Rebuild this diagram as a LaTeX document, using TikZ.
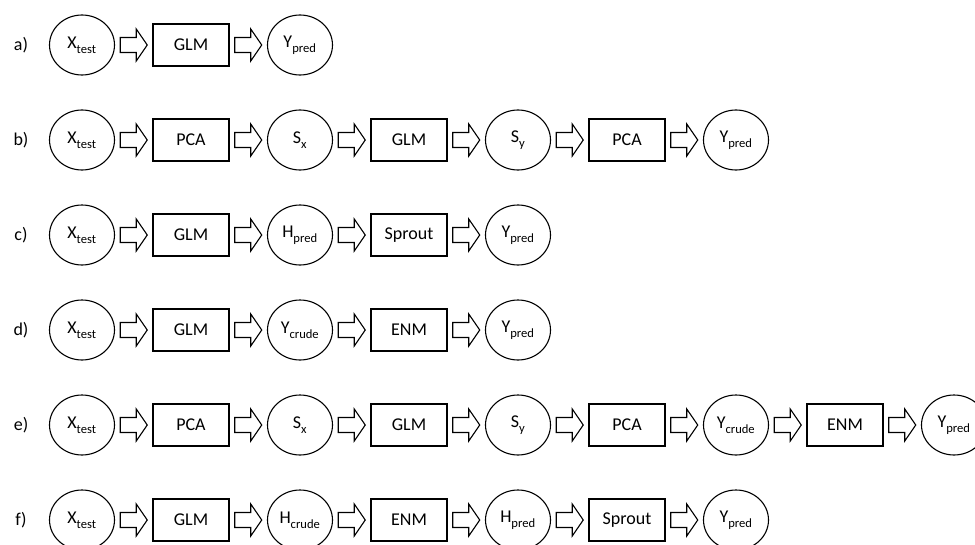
\documentclass[tikz,border=0pt]{standalone}
\usepackage{fontspec}
\setmainfont{Carlito}
\usetikzlibrary{calc,shapes.geometric}
\tikzset{
  circ/.style={ellipse, draw, line width=1.1pt, minimum width=65pt, minimum height=60pt, inner sep=0pt, font=\fontsize{18}{21}\selectfont},
  boxn/.style={rectangle, draw, line width=1.1pt, minimum width=76pt, minimum height=42pt, inner sep=0pt, font=\fontsize{18}{21}\selectfont},
  barrow/.style={draw, line width=1.1pt, line join=miter},
  lbl/.style={font=\fontsize{18}{21}\selectfont},
}
\newcommand{\sbs}[1]{\textsubscript{\raisebox{-0.35ex}{#1}}}
\newcommand{\arr}[2]{\begin{scope}[shift={($(#1.east)!0.5!(#2.west)$)}]
  \draw[barrow] (-13.5,-7.5) -- (2.5,-7.5) -- (2.5,-16) -- (13.5,0) -- (2.5,16) -- (2.5,7.5) -- (-13.5,7.5) -- cycle;
\end{scope}}
\begin{document}
\begin{tikzpicture}[x=1pt,y=-1pt]
\useasboundingbox (0,0) rectangle (975,544);
% row a
\node[lbl] (la) at (21,45) {a)};
\node[circ] (a1) at (82,45) {X\sbs{test}};
\node[boxn] (a2) at (191,45) {GLM};
\node[circ] (a3) at (300,45) {Y\sbs{pred}};
\arr{a1}{a2}\arr{a2}{a3}
% row b
\node[lbl] (lb) at (21,140) {b)};
\node[circ] (b1) at (82,140) {X\sbs{test}};
\node[boxn] (b2) at (191,140) {PCA};
\node[circ] (b3) at (300,140) {S\sbs{x}};
\node[boxn] (b4) at (409,140) {GLM};
\node[circ] (b5) at (518,140) {S\sbs{y}};
\node[boxn] (b6) at (627,140) {PCA};
\node[circ] (b7) at (736,140) {Y\sbs{pred}};
\arr{b1}{b2}\arr{b2}{b3}\arr{b3}{b4}\arr{b4}{b5}\arr{b5}{b6}\arr{b6}{b7}
% row c
\node[lbl] (lc) at (21,235) {c)};
\node[circ] (c1) at (82,235) {X\sbs{test}};
\node[boxn] (c2) at (191,235) {GLM};
\node[circ] (c3) at (300,235) {H\sbs{pred}};
\node[boxn] (c4) at (409,235) {Sprout};
\node[circ] (c5) at (518,235) {Y\sbs{pred}};
\arr{c1}{c2}\arr{c2}{c3}\arr{c3}{c4}\arr{c4}{c5}
% row d
\node[lbl] (ld) at (21,330) {d)};
\node[circ] (d1) at (82,330) {X\sbs{test}};
\node[boxn] (d2) at (191,330) {GLM};
\node[circ] (d3) at (300,330) {Y\sbs{crude}};
\node[boxn] (d4) at (409,330) {ENM};
\node[circ] (d5) at (518,330) {Y\sbs{pred}};
\arr{d1}{d2}\arr{d2}{d3}\arr{d3}{d4}\arr{d4}{d5}
% row e
\node[lbl] (le) at (21,425) {e)};
\node[circ] (e1) at (82,425) {X\sbs{test}};
\node[boxn] (e2) at (191,425) {PCA};
\node[circ] (e3) at (300,425) {S\sbs{x}};
\node[boxn] (e4) at (409,425) {GLM};
\node[circ] (e5) at (518,425) {S\sbs{y}};
\node[boxn] (e6) at (627,425) {PCA};
\node[circ] (e7) at (736,425) {Y\sbs{crude}};
\node[boxn] (e8) at (845,425) {ENM};
\node[circ] (e9) at (954,425) {Y\sbs{pred}};
\arr{e1}{e2}\arr{e2}{e3}\arr{e3}{e4}\arr{e4}{e5}\arr{e5}{e6}\arr{e6}{e7}\arr{e7}{e8}\arr{e8}{e9}
% row f
\node[lbl] (lf) at (21,520) {f)};
\node[circ] (f1) at (82,520) {X\sbs{test}};
\node[boxn] (f2) at (191,520) {GLM};
\node[circ] (f3) at (300,520) {H\sbs{crude}};
\node[boxn] (f4) at (409,520) {ENM};
\node[circ] (f5) at (518,520) {H\sbs{pred}};
\node[boxn] (f6) at (627,520) {Sprout};
\node[circ] (f7) at (736,520) {Y\sbs{pred}};
\arr{f1}{f2}\arr{f2}{f3}\arr{f3}{f4}\arr{f4}{f5}\arr{f5}{f6}\arr{f6}{f7}
\end{tikzpicture}
\end{document}
